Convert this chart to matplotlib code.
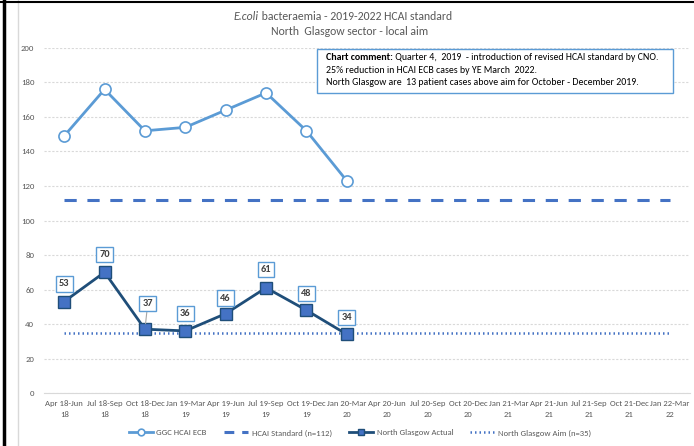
import matplotlib
matplotlib.use("Agg")
from matplotlib import pyplot as plt
from matplotlib.lines import Line2D
from matplotlib.patches import Rectangle
from matplotlib.text import Annotation

plt.rcParams['font.family'] = ['Carlito', 'DejaVu Sans']

quarters = ["Apr 18-Jun\n18", "Jul 18-Sep\n18", "Oct 18-Dec\n18", "Jan 19-Mar\n19",
            "Apr 19-Jun\n19", "Jul 19-Sep\n19", "Oct 19-Dec\n19", "Jan 20-Mar\n20",
            "Apr 20-Jun\n20", "Jul 20-Sep\n20", "Oct 20-Dec\n20", "Jan 21-Mar\n21",
            "Apr 21-Jun\n21", "Jul 21-Sep\n21", "Oct 21-Dec\n21", "Jan 22-Mar\n22"]
ggc_ecb = [149, 176, 152, 154, 164, 174, 152, 123]
ng_actual = [53, 70, 37, 36, 46, 61, 48, 34]
hcai_standard = 112
ng_aim = 35

# label offsets (points above the marker)
label_offsets = [9.5, 9.5, 15, 9.5, 8, 10, 9, 9]

grey = '#595959'
x = list(range(len(quarters)))

fig = plt.figure(figsize=(6.94, 4.46), dpi=100)
ax = fig.add_axes([0.0634, 0.1188, 0.9308, 0.7736])

std_line, = ax.plot(x, [hcai_standard] * len(x), color='#4472C4', lw=2.2, dashes=(4, 3.5),
                    zorder=2)
aim_line, = ax.plot(x, [ng_aim] * len(x), color='#4472C4', lw=1.8, ls=(0, (0.6, 1.2)),
                    zorder=2)
ggc_line, = ax.plot(range(len(ggc_ecb)), ggc_ecb, color='#5B9BD5', lw=2, marker='o', ms=8,
                    mfc='white', mec='#5B9BD5', mew=1.2, zorder=3)
ng_line, = ax.plot(range(len(ng_actual)), ng_actual, color='#1F4E79', lw=2, marker='s', ms=8,
                   mfc='#4472C4', mec='#1F4E79', mew=1, zorder=4)

for i, v in enumerate(ng_actual):
    off = label_offsets[i]
    arrow = dict(arrowstyle='-', color='#A6A6A6', lw=0.8, shrinkA=0, shrinkB=4) if off > 10 else None
    ax.annotate(str(v), (i, v), xytext=(2 if off > 10 else 0, off), textcoords='offset points',
                ha='center', va='bottom', fontsize=7.5, fontweight='bold', color='#404040',
                bbox=dict(boxstyle='square,pad=0.3', fc='white', ec='#5B9BD5', lw=1),
                arrowprops=arrow, zorder=5)

ax.set_xlim(-0.5, len(quarters) - 0.5)
ax.set_ylim(0, 200)
ax.set_yticks(range(0, 201, 20))
ax.set_xticks(x)
ax.set_xticklabels(quarters, fontsize=6.2, color=grey, linespacing=1.6)
ax.tick_params(axis='y', labelsize=6.3, labelcolor=grey, length=0, pad=7)
ax.tick_params(axis='x', length=0, pad=5)
ax.grid(axis='y', color='#D9D9D9', lw=0.8, ls=(0, (2, 1.5)))
ax.set_axisbelow(True)
for s in ['top', 'right', 'left']:
    ax.spines[s].set_visible(False)
ax.spines['bottom'].set_color('#D9D9D9')
ax.spines['bottom'].set_zorder(1)

# title, italic species name then the rest
t1 = fig.text(259 / 694, 0.962, 'E.coli', ha='right', va='center', fontsize=8.5,
              color=grey, style='italic')
fig.add_artist(Annotation(' bacteraemia - 2019-2022 HCAI standard', xy=(1, 0.5), xycoords=t1,
                          ha='left', va='center', fontsize=8.5, color=grey))
fig.text(0.504, 0.930, 'North  Glasgow sector - local aim', ha='center', va='center',
         fontsize=8.5, color=grey)

# chart comment box
fig.patches.append(Rectangle((317 / 694, 1 - 93 / 446), 356 / 694, 44 / 446,
                             transform=fig.transFigure, fc='white', ec='#5B9BD5', lw=1, zorder=6))
c1 = fig.text(326 / 694, 1 - 58 / 446, 'Chart comment:', fontsize=7.1, fontweight='bold',
              va='center', color='black', zorder=7)
fig.add_artist(Annotation(' Quarter 4,  2019  - introduction of revised HCAI standard by CNO.',
                          xy=(1, 0.5), xycoords=c1, ha='left', va='center', fontsize=7.1,
                          color='black', zorder=7))
fig.text(326 / 694, 1 - 70.5 / 446, '25% reduction in HCAI ECB cases by YE March  2022.',
         fontsize=7.1, va='center', color='black', zorder=7)
fig.text(326 / 694, 1 - 82.5 / 446, 'North Glasgow are  13 patient cases above aim for October - December 2019.',
         fontsize=7.1, va='center', color='black', zorder=7)

# legend: the dashed standard gets its own proxy so two dashes show
std_proxy = Line2D([], [], color='#4472C4', lw=2.2, dashes=(3.2, 2.6))
fig.legend([ggc_line, std_proxy, ng_line, aim_line],
           ['GGC HCAI ECB', 'HCAI Standard (n=112)', 'North Glasgow Actual', 'North Glasgow Aim (n=35)'],
           loc='center', bbox_to_anchor=(360 / 694, 1 - 433 / 446), ncol=4, frameon=False,
           fontsize=6.2, labelcolor=grey, handlelength=2.8, handletextpad=0.4,
           columnspacing=2.0, markerscale=0.6)

# outer borders
fig.add_artist(Line2D([18 / 694, 18 / 694], [0, 1], color='#D9D9D9', lw=1, transform=fig.transFigure))
fig.add_artist(Line2D([4 / 694, 4 / 694], [0, 1], color='black', lw=2.5, transform=fig.transFigure))
fig.add_artist(Line2D([0, 1], [1 - 1.5 / 446, 1 - 1.5 / 446], color='black', lw=1.5, transform=fig.transFigure))

plt.savefig('out.png', dpi=100)
